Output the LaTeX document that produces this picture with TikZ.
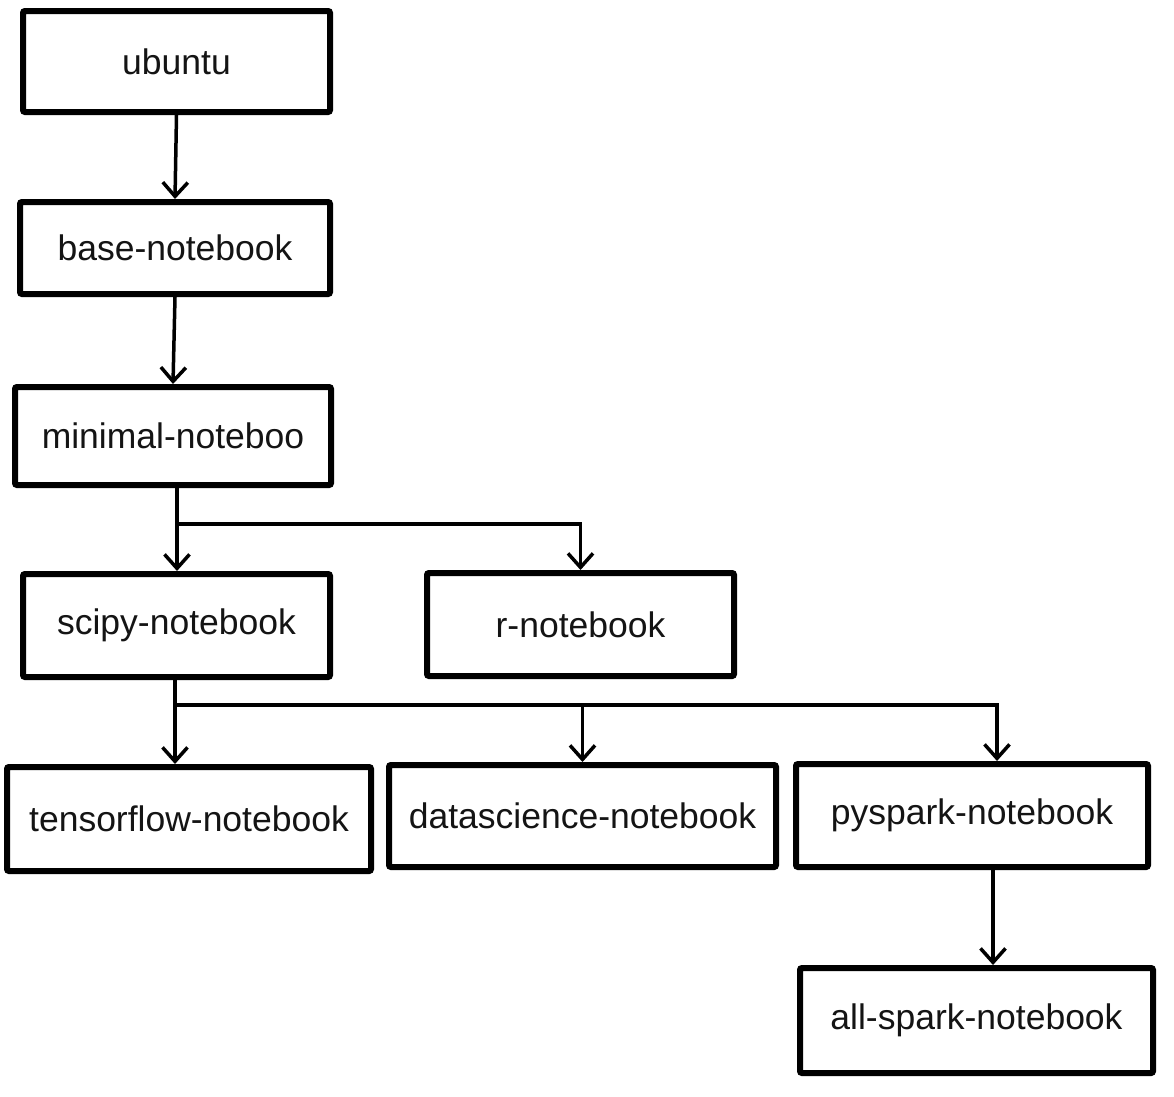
\documentclass[tikz,border=0pt]{standalone}
\usepackage{fontspec}
\setmainfont{Liberation Sans}
\usetikzlibrary{arrows.meta}
\begin{document}
\begin{tikzpicture}[x=1pt,y=-1pt,
  box/.style={draw, line width=6pt, rounded corners=2pt, inner sep=0pt,
    font=\fontsize{35.5}{42}\selectfont, text=black!92},
  arr/.style={line width=3.5pt, -{Straight Barb[length=14pt,width=25pt,line width=3.5pt]}},
  lnk/.style={line width=3.5pt}]
\useasboundingbox (0,0) rectangle (1174,1096);
\fill[white] (0,0) rectangle (1174,1096);
\node[box, minimum width=307pt, minimum height=101pt] (u) at (176.5,61.5) {ubuntu};
\node[box, minimum width=310pt, minimum height=92pt] (b) at (175,248) {base-notebook};
\node[box, minimum width=316pt, minimum height=98pt] (m) at (173,436) {minimal-noteboo};
\node[box, minimum width=307pt, minimum height=103pt] (s) at (176.5,625.5) {scipy-notebook};
\node[box, minimum width=307pt, minimum height=103pt] (r) at (580.5,624.5) {r-notebook};
\node[box, minimum width=364pt, minimum height=104pt] (t) at (189,819) {tensorflow-notebook};
\node[box, minimum width=387pt, minimum height=102pt] (d) at (582.5,816) {datascience-notebook};
\node[box, minimum width=352pt, minimum height=103pt] (p) at (972,815.5) {pyspark-notebook};
\node[box, minimum width=353pt, minimum height=105pt] (a) at (976.5,1020.5) {all-spark-notebook};
\coordinate (j1) at (177,524);
\coordinate (j2) at (175,705);
\coordinate (j3) at (997,705);
\coordinate (j4) at (993,870);
\draw[arr] (u.south) -- (b.north);
\draw[arr] (b.south) -- (m.north);
\draw[arr] (j1 |- m.south) -- (j1 |- s.north);
\draw[arr] (j1) -| (r.north);
\draw[lnk] (j2 |- s.south) -- (j2);
\draw[arr] (j2) -- (j2 |- t.north);
\draw[arr] (j2) -| (d.north);
\draw[arr] (j2) -- (j3) -- (j3 |- p.north);
\draw[arr] (j4 |- p.south) -- (j4 |- a.north);
\end{tikzpicture}
\end{document}
